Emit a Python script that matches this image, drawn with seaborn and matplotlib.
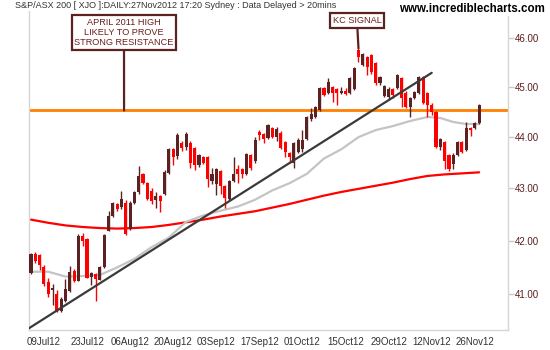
import numpy as np
import pandas as pd
import matplotlib
matplotlib.use("Agg")
import matplotlib.pyplot as plt
from matplotlib.ticker import NullLocator, FixedLocator, FixedFormatter
import seaborn as sns

# ---------------- data ----------------
dates = pd.bdate_range("2012-07-04", "2012-11-27")  # trading days

opens = [41.40, 41.76, 41.73, 41.50, 41.22, 41.08, 41.00, 40.70, 40.88, 41.07,
         41.44, 41.25, 42.09, 42.03, 41.33, 41.37, 41.27, 41.50, 42.19, 42.47,
         42.70, 42.65, 42.72, 42.23, 42.72, 42.92, 43.28, 43.10, 42.95, 42.78,
         42.85, 42.89, 43.30, 43.76, 43.62, 43.88, 43.80, 43.88, 43.78, 43.45,
         43.60, 43.60, 43.14, 43.08, 43.34, 43.04, 42.79, 43.14, 43.38, 43.38,
         43.28, 43.64, 43.54, 44.10, 44.06, 43.98, 44.18, 44.00, 44.08, 43.90,
         43.68, 43.50, 43.70, 43.76, 43.96, 44.36, 44.40, 44.54, 44.98, 44.88,
         45.00, 44.96, 44.88, 44.92, 44.88, 44.96, 45.76, 45.45, 45.61, 45.65,
         45.49, 45.08, 44.82, 44.80, 44.96, 44.98, 45.18, 44.88, 44.60, 44.78,
         44.88, 45.20, 44.88, 44.64, 44.50, 43.80, 43.90, 43.64, 43.48, 43.64,
         43.90, 43.74, 44.18, 44.18, 44.28]
highs = [41.77, 41.78, 41.75, 41.55, 41.30, 41.20, 41.08, 40.95, 41.29, 41.53,
         41.47, 42.12, 42.15, 42.05, 41.42, 41.40, 41.52, 42.13, 42.57, 42.73,
         42.72, 42.95, 42.78, 42.75, 42.95, 43.44, 43.30, 43.12, 43.00, 42.92,
         42.88, 43.35, 43.78, 43.78, 44.08, 43.92, 44.10, 43.92, 43.80, 43.66,
         43.62, 43.62, 43.40, 43.40, 43.36, 43.06, 43.16, 43.60, 43.45, 43.40,
         43.68, 43.66, 44.00, 44.14, 44.08, 44.26, 44.20, 44.20, 44.12, 43.92,
         43.70, 43.90, 43.98, 44.14, 44.42, 44.58, 44.62, 45.00, 45.00, 45.18,
         45.02, 44.98, 45.00, 44.98, 45.20, 45.40, 45.79, 45.70, 45.63, 45.67,
         45.52, 45.22, 45.04, 45.00, 44.98, 45.26, 45.20, 44.92, 44.80, 44.92,
         45.22, 45.22, 44.90, 44.68, 44.52, 43.98, 43.92, 43.66, 43.68, 43.92,
         43.92, 44.30, 44.20, 44.30, 44.66]
lows = [41.38, 41.58, 41.45, 41.15, 40.95, 40.80, 40.68, 40.68, 40.86, 41.05,
        41.23, 41.24, 41.90, 41.30, 41.18, 40.87, 41.26, 41.48, 42.18, 42.45,
        42.57, 42.60, 42.10, 42.20, 42.70, 42.90, 43.08, 42.78, 42.70, 42.62,
        42.55, 42.87, 43.28, 43.46, 43.58, 43.72, 43.75, 43.40, 43.35, 43.42,
        43.48, 43.02, 43.08, 42.88, 42.90, 42.62, 42.77, 43.12, 43.10, 43.20,
        43.26, 43.36, 43.50, 43.94, 43.88, 43.96, 43.98, 43.93, 43.76, 43.60,
        43.50, 43.40, 43.68, 43.70, 43.94, 44.32, 44.38, 44.52, 44.82, 44.86,
        44.70, 44.64, 44.86, 44.84, 44.86, 44.94, 45.52, 45.42, 45.24, 45.26,
        45.05, 45.04, 44.80, 44.74, 44.78, 44.96, 44.60, 44.58, 44.40, 44.76,
        44.86, 44.66, 44.40, 44.44, 43.78, 43.74, 43.38, 43.34, 43.38, 43.62,
        43.68, 43.72, 44.02, 44.16, 44.26]
closes = [41.75, 41.62, 41.55, 41.20, 41.00, 41.12, 40.70, 40.92, 41.10, 41.42,
          41.25, 42.09, 42.00, 41.31, 41.40, 41.28, 41.50, 42.11, 42.47, 42.72,
          42.60, 42.80, 42.12, 42.72, 42.92, 43.24, 43.10, 42.80, 42.75, 42.85,
          42.75, 43.32, 43.76, 43.60, 44.05, 43.78, 44.06, 43.50, 43.45, 43.64,
          43.50, 43.18, 43.28, 43.38, 43.04, 42.81, 43.14, 43.28, 43.28, 43.28,
          43.66, 43.40, 43.94, 44.04, 43.96, 44.24, 44.00, 44.16, 43.78, 43.70,
          43.60, 43.88, 43.94, 43.94, 44.40, 44.46, 44.60, 44.98, 44.84, 45.10,
          44.88, 44.88, 44.92, 44.86, 45.18, 45.39, 45.61, 45.68, 45.41, 45.30,
          45.08, 45.20, 45.02, 44.96, 44.84, 45.24, 44.78, 44.60, 44.78, 44.90,
          45.20, 44.68, 44.64, 44.50, 43.80, 43.96, 43.54, 43.38, 43.64, 43.90,
          43.70, 44.18, 44.14, 44.28, 44.64]

# moving averages (trading-day index, value)
ma_short_idx = [0, 4, 8, 12, 16, 20, 24, 28, 32, 36, 40, 44, 48, 52, 56, 60,
                64, 68, 72, 76, 80, 84, 88, 92, 95, 98, 101, 104]
ma_short_val = [41.42, 41.42, 41.33, 41.34, 41.36, 41.50, 41.66, 41.88, 42.06,
                42.36, 42.48, 42.57, 42.65, 42.78, 42.96, 43.10, 43.28, 43.58,
                43.76, 44.00, 44.14, 44.22, 44.32, 44.40, 44.38, 44.30, 44.26,
                44.26]
ma_long_idx = [0, 4, 8, 12, 16, 20, 24, 28, 32, 36, 40, 44, 48, 52, 56, 60,
               64, 68, 72, 76, 80, 84, 88, 92, 96, 100, 104]
ma_long_val = [42.40, 42.34, 42.29, 42.26, 42.24, 42.23, 42.24, 42.26, 42.30,
               42.35, 42.40, 42.46, 42.51, 42.56, 42.63, 42.70, 42.78, 42.86,
               42.93, 42.99, 43.05, 43.11, 43.18, 43.24, 43.27, 43.29, 43.31]

# trend line (index, value) end points
trend_idx = [-0.5, 93.0]
trend_val = [40.38, 45.29]

resistance = 44.53
resist_note_idx = 21.6
signal_idx = 76

y_ticks = [41, 42, 43, 44, 45, 46]
y_tick_labels = ["41.00", "42.00", "43.00", "44.00", "45.00", "46.00"]
x_tick_labels = ["09Jul12", "23Jul12", "06Aug12", "20Aug12", "03Sep12",
                 "17Sep12", "01Oct12", "15Oct12", "29Oct12", "12Nov12",
                 "26Nov12"]

title = "S&P/ASX 200 [ XJO ]:DAILY:27Nov2012 17:20 Sydney : Data Delayed > 20mins"
site = "www.incrediblecharts.com"
note1 = "APRIL 2011 HIGH\nLIKELY TO PROVE\nSTRONG RESISTANCE"
note2 = "KC SIGNAL"

# ---------------- style ----------------
sns.set_style("white")
plt.rcParams["font.family"] = ["Liberation Sans", "DejaVu Sans"]

UP = "#5c2222"
DOWN = "#ff0000"
ANN = "#5c2222"

W, H = 550, 350
fig = plt.figure(figsize=(W / 100, H / 100), dpi=100)
ax = fig.add_axes([29 / W, 20 / H, (508 - 29) / W, (330 - 5) / H])
ax.set_yscale("log")

idx = np.arange(len(dates))
o = np.array(opens); h = np.array(highs); l = np.array(lows); c = np.array(closes)
up = c >= o
colors = np.where(up, UP, DOWN)

# moving averages and trend line
sns.lineplot(x=ma_long_idx, y=ma_long_val, ax=ax, color="#ff0000", lw=1.6,
             estimator=None, sort=False, zorder=2)
sns.lineplot(x=ma_short_idx, y=ma_short_val, ax=ax, color="#c4c4c4", lw=1.6,
             estimator=None, sort=False, zorder=2)
sns.lineplot(x=trend_idx, y=trend_val, ax=ax, color="#3a3a3a", lw=1.6,
             estimator=None, sort=False, zorder=4)
ax.axhline(resistance, color="#ff8000", lw=2.0, zorder=2.5)

# candles
ax.vlines(idx, l, h, colors=colors, lw=1.0, zorder=3)
body_lo = np.minimum(o, c)
body_h = np.maximum(np.abs(c - o), 0.02)
ax.bar(idx, body_h, bottom=body_lo, width=0.72, color=colors, lw=0, zorder=3)

# axes
ax.set_xlim(-0.46, 110.7)
ax.set_ylim(40.35, 46.69)
ax.yaxis.tick_right()
ax.yaxis.set_major_locator(FixedLocator(y_ticks))
ax.yaxis.set_major_formatter(FixedFormatter(y_tick_labels))
ax.yaxis.set_minor_locator(NullLocator())
tick_pos = [int(np.where(dates.strftime("%d%b%y") == s)[0][0]) for s in x_tick_labels]
ax.set_xticks(tick_pos)
ax.set_xticklabels(x_tick_labels)
ax.set_xlabel("")
ax.set_ylabel("")
for side in ["left", "bottom", "right"]:
    ax.spines[side].set_visible(True)
    ax.spines[side].set_color("#d6d6d6")
    ax.spines[side].set_linewidth(1.0)
ax.spines["top"].set_visible(False)
ax.tick_params(axis="y", which="major", direction="out", length=4, width=1,
               color="#c8c8c8", pad=1, labelsize=7, labelcolor="#5a1e1e",
               right=True, left=False)
ax.tick_params(axis="x", which="major", direction="out", length=3, width=1,
               color="#c8c8c8", pad=2, labelsize=7, labelcolor="#333333")

# annotations
ax.annotate(note1, xy=(resist_note_idx, resistance), xycoords="data",
            xytext=(124, H - 32.5), textcoords="figure pixels",
            ha="center", va="center", fontsize=6.6, color="#6b1f1f",
            linespacing=1.2,
            bbox=dict(boxstyle="square,pad=0.3", fc="white", ec=ANN, lw=1.6),
            arrowprops=dict(arrowstyle="-", color=ANN, lw=1.6,
                            shrinkA=0, shrinkB=0), zorder=6)
ax.annotate(note2, xy=(signal_idx, highs[signal_idx]), xycoords="data",
            xytext=(357, H - 20.5), textcoords="figure pixels",
            ha="center", va="center", fontsize=6.6, color="#6b1f1f",
            bbox=dict(boxstyle="square,pad=0.3", fc="white", ec=ANN, lw=1.6),
            arrowprops=dict(arrowstyle="-", color=ANN, lw=1.6,
                            shrinkA=0, shrinkB=0), zorder=6)

fig.text(15 / W, 1 - 6 / H, title, ha="left", va="center", fontsize=6.5,
         color="#333333", bbox=dict(fc="white", ec="none", pad=0.5), zorder=10)
fig.text(545 / W, 1 - 9 / H, site, ha="right", va="center", fontsize=8.3,
         fontweight="bold", color="black",
         bbox=dict(fc="white", ec="none", pad=0.5), zorder=10)

fig.savefig("out.png", dpi=100, facecolor="white")
